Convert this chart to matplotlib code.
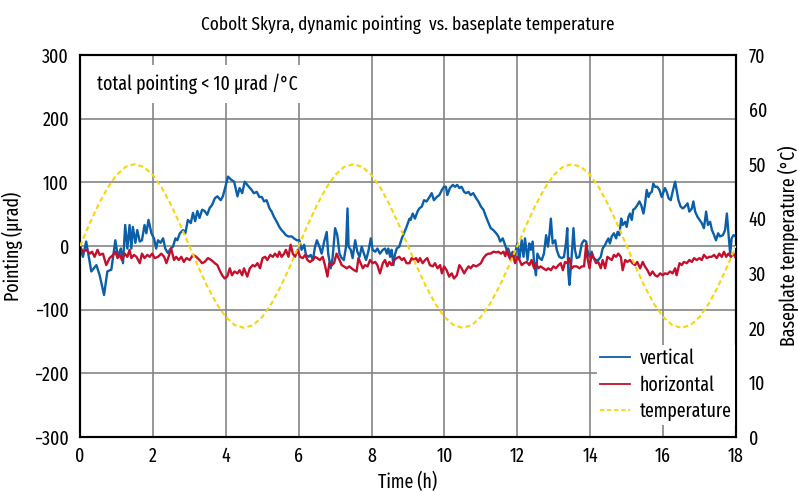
import matplotlib
matplotlib.use("Agg")
import matplotlib.pyplot as plt
from matplotlib.lines import Line2D

plt.rcParams['font.family'] = ['Fira Sans Extra Condensed', 'Fira Sans Condensed', 'DejaVu Sans']
plt.rcParams['axes.unicode_minus'] = True

# ---------------- data ----------------
vert_t = [0.00, 0.08, 0.17, 0.31, 0.45, 0.54, 0.66, 0.75, 0.86, 0.97, 1.04, 1.12, 1.18, 1.24, 1.30, 1.36, 1.41, 1.45,
          1.52, 1.57, 1.64, 1.70, 1.77, 1.82, 1.88, 1.96, 2.03, 2.09, 2.14, 2.21, 2.28, 2.34, 2.41, 2.49, 2.55, 2.62,
          2.67, 2.74, 2.83, 2.89, 2.96, 3.04, 3.10, 3.16, 3.22, 3.28, 3.35, 3.42, 3.49, 3.56, 3.62, 3.70, 3.77, 3.86,
          3.92, 3.99, 4.06, 4.15, 4.23, 4.32, 4.38, 4.45, 4.52, 4.59,
          4.71, 4.77, 4.85, 4.92, 4.99, 5.05, 5.12, 5.20, 5.26, 5.32, 5.40, 5.47, 5.53, 5.58, 5.65, 5.72, 5.81, 5.87,
          5.95, 6.02, 6.08, 6.15, 6.20, 6.27, 6.33, 6.39, 6.45, 6.50, 6.57, 6.63, 6.70, 6.77, 6.81, 6.88, 6.93, 7.00,
          7.06, 7.12, 7.18, 7.24, 7.30, 7.34, 7.37, 7.43, 7.48, 7.55, 7.61, 7.67, 7.73, 7.79, 7.85, 7.91, 7.98, 8.03,
          8.10, 8.16, 8.23, 8.31, 8.37, 8.42, 8.46, 8.51, 8.55, 8.60, 8.64, 8.69, 8.76, 8.83, 8.89, 8.96, 9.04,
          9.07, 9.13, 9.19, 9.26, 9.31, 9.38, 9.44, 9.51, 9.59, 9.65, 9.71, 9.79, 9.86, 9.93, 9.99, 10.04, 10.08,
          10.15, 10.23, 10.29, 10.35, 10.41, 10.47, 10.54, 10.59, 10.66, 10.72, 10.79, 10.87, 10.93, 11.00, 11.07,
          11.14, 11.21, 11.27, 11.34, 11.42, 11.48, 11.53, 11.60, 11.66, 11.71, 11.75, 11.82, 11.87, 11.92, 11.96,
          12.00, 12.06, 12.12, 12.17, 12.21, 12.28, 12.33, 12.37, 12.42, 12.46, 12.51, 12.55, 12.61, 12.67, 12.73,
          12.79, 12.84, 12.88, 12.92, 12.97, 13.04, 13.08, 13.15, 13.22, 13.28, 13.34, 13.37, 13.40, 13.43,
          13.49, 13.54, 13.58, 13.63, 13.70, 13.77, 13.83, 13.89, 13.92, 13.98, 14.04, 14.09, 14.16, 14.22, 14.29,
          14.34, 14.41, 14.45, 14.50, 14.54, 14.59, 14.65, 14.71, 14.75, 14.80, 14.85, 14.89, 14.96, 15.00, 15.05,
          15.09, 15.14, 15.18, 15.23, 15.29, 15.35, 15.40, 15.46, 15.50, 15.55, 15.60, 15.64, 15.69, 15.73, 15.78,
          15.84, 15.90, 15.96, 16.01, 16.05, 16.10, 16.15, 16.21, 16.26, 16.33, 16.37, 16.42, 16.48, 16.54, 16.60,
          16.67, 16.72, 16.79, 16.83, 16.88, 16.94, 17.00, 17.06, 17.12, 17.18, 17.23, 17.29, 17.34, 17.40, 17.45,
          17.51, 17.56, 17.64, 17.70, 17.75, 17.79, 17.84, 17.88, 17.93, 18.00]
vert_v = [-1, -17, 7, -40, -30, -46, -77, -40, -37, 9, -17, -4, -27, 33, -4, 33, -4, 30,
          5, 25, 7, 9, 33, 20, 41, 20, 12, -4, 9, 5, 12, -4, -11, -4, -1, 12,
          9, 20, 25, 20, 41, 36, 52, 39, 55, 44, 57, 55, 49, 60, 64, 75, 78, 72,
          78, 93, 109, 104, 101, 78, 91, 83, 101, 96,
          88, 83, 85, 77, 77, 70, 72, 59, 54, 46, 38, 30, 25, 22, 17, 15, 15, 12,
          9, 9, -6, 2, -14, -17, -14, -22, -1, 9, -1, -12, 7, 22, -12, -35, -19, 28,
          17, -12, -19, -22, -1, 59, -1, -6, -19, 9, -9, -17, -1, -12, -22, -9, 12, -6,
          -9, -4, -12, -6, -4, -12, -4, -17, -6, -30, -14, -4, -1, 12, 20, 30, 43,
          41, 51, 43, 54, 59, 62, 72, 70, 77, 83, 72, 77, 80, 88, 93, 93, 80,
          91, 96, 93, 96, 91, 93, 85, 83, 85, 80, 83, 75, 70, 62, 57,
          46, 36, 28, 25, 20, 15, 7, 12, 2, -6, -4, -17, -9, -19, -6,
          4, -19, 9, -17, 12, -22, 4, -6, 7, -27, -46, -12, -19, -22, -12,
          17, -1, 17, 43, 4, 9, -6, -17, -19, -17, 7, 28, -43, -61,
          -17, 28, -6, -19, -17, 4, 9, 7, -6, -17, -9, -19, -22, -22, -17,
          -4, 2, 7, 12, 4, 15, 20, 12, 22, 17, 43, 33, 38, 30, 46,
          51, 41, 57, 59, 64, 70, 64, 51, 64, 88, 77, 83, 85, 98, 93,
          93, 88, 77, 85, 91, 85, 75, 72, 85, 101, 88, 72, 62, 59, 62,
          67, 54, 59, 70, 54, 46, 41, 36, 28, 54, 33, 38, 25, 17, 9,
          20, 15, 17, 25, 51, 22, -12, 12, 17, 15]

horiz_t = [0.00, 0.08, 0.17, 0.27, 0.33, 0.40, 0.48, 0.54, 0.63, 0.72, 0.81, 0.91, 0.97, 1.03, 1.09, 1.15, 1.23,
           1.30, 1.36, 1.41, 1.48, 1.55, 1.64, 1.70, 1.77, 1.85, 1.91, 1.98, 2.05, 2.14, 2.23, 2.31, 2.37, 2.43,
           2.50, 2.58, 2.64, 2.71, 2.78, 2.85, 2.92, 3.01, 3.10, 3.19, 3.28, 3.35, 3.42, 3.51, 3.60, 3.70, 3.77,
           3.83, 3.90, 3.97, 4.04, 4.11, 4.17, 4.24, 4.32, 4.38, 4.45, 4.50, 4.59,
           4.66, 4.74, 4.80, 4.87, 4.94, 5.01, 5.08, 5.14, 5.22, 5.29, 5.35, 5.42, 5.47, 5.53, 5.60, 5.65, 5.72,
           5.78, 5.84, 5.90, 5.97, 6.04, 6.11, 6.18, 6.24, 6.31, 6.39, 6.45, 6.51, 6.58, 6.66, 6.72, 6.79, 6.84,
           6.91, 6.97, 7.04, 7.12, 7.18, 7.24, 7.32, 7.39, 7.45, 7.52, 7.59, 7.64, 7.70, 7.76, 7.82, 7.89, 7.96,
           8.03, 8.10, 8.16, 8.23, 8.31, 8.37, 8.43, 8.49, 8.55, 8.62, 8.69, 8.76, 8.83, 8.89, 8.96, 9.04,
           9.10, 9.16, 9.22, 9.28, 9.33, 9.40, 9.47, 9.53, 9.60, 9.68, 9.74, 9.81, 9.88, 9.93, 9.99, 10.06, 10.13,
           10.20, 10.26, 10.34, 10.41, 10.47, 10.54, 10.59, 10.66, 10.72, 10.79, 10.87, 10.93, 11.00, 11.07, 11.14,
           11.21, 11.27, 11.34, 11.42, 11.48, 11.55, 11.62, 11.67, 11.71, 11.75, 11.82, 11.87, 11.94, 12.00, 12.06,
           12.12, 12.18, 12.26, 12.33, 12.39, 12.46, 12.51, 12.58, 12.64, 12.71, 12.79, 12.85, 12.92, 12.99, 13.06,
           13.13, 13.19, 13.25, 13.31, 13.37, 13.42,
           13.49, 13.55, 13.63, 13.70, 13.77, 13.83, 13.89, 13.92, 13.98, 14.04, 14.10, 14.16, 14.22, 14.29, 14.34,
           14.41, 14.47, 14.52, 14.59, 14.65, 14.71, 14.77, 14.84, 14.89, 14.96, 15.02, 15.09, 15.16, 15.23, 15.29,
           15.37, 15.44, 15.50, 15.57, 15.64, 15.71, 15.78, 15.84, 15.92, 15.99, 16.05, 16.12, 16.19, 16.26, 16.33,
           16.37, 16.45, 16.51, 16.57, 16.65, 16.72, 16.79, 16.85, 16.92, 17.00, 17.06, 17.12, 17.20, 17.27, 17.33,
           17.40, 17.47, 17.54, 17.61, 17.67, 17.73, 17.79, 17.86, 17.93, 18.00]
horiz_v = [-1, -9, -6, -12, -9, -17, -6, -14, -12, -30, -19, -14, -9, -19, -14, -22, -12,
           -17, -6, -19, -14, -17, -27, -12, -19, -14, -17, -12, -19, -17, -12, -17, -27, -17,
           -4, -22, -17, -22, -17, -25, -19, -22, -14, -17, -22, -27, -25, -19, -22, -27, -30,
           -38, -46, -51, -48, -35, -46, -40, -43, -38, -46, -35, -48,
           -35, -30, -32, -27, -35, -19, -17, -22, -14, -17, -12, -17, -9, -17, -12, -6, -17,
           2, -12, -17, -6, -17, -19, -14, -22, -25, -22, -17, -19, -22, -17, -30, -48, -27,
           -30, -27, -12, -22, -30, -32, -35, -32, -35, -38, -40, -19, -27, -35, -30, -32, -22,
           -27, -25, -30, -43, -27, -22, -32, -25, -30, -22, -19, -17, -22, -19, -27, -27,
           -19, -22, -19, -25, -19, -27, -22, -19, -30, -32, -27, -35, -30, -43, -32, -38, -48,
           -43, -51, -46, -30, -35, -43, -38, -32, -35, -30, -32, -30, -27, -19, -14,
           -12, -12, -9, -10, -9, -12, -9, -16, -6, -14, -22, -12, -27, -17, -22,
           -30, -27, -25, -30, -22, -35, -27, -35, -32, -35, -38, -35, -38, -32, -35,
           -30, -27, -38, -25, -27, -19,
           -35, -32, -32, -35, -32, -32, 2, -17, -35, -12, -19, -27, -25, -35, -22,
           -35, -17, -19, -22, -14, -17, -12, -17, -38, -22, -25, -22, -27, -30, -25,
           -35, -25, -32, -38, -46, -40, -46, -48, -43, -46, -43, -44, -40, -43, -35,
           -46, -27, -30, -25, -27, -22, -25, -19, -22, -19, -22, -14, -19, -17, -17,
           -14, -19, -12, -17, -9, -17, -12, -17, -12, -19]

temp_t = [i * 0.25 for i in range(73)]
temp_v = [35.0, 38.9, 42.5, 45.6, 48.0, 49.5, 50.0, 49.5, 48.0, 45.6, 42.5, 38.9,
          35.0, 31.1, 27.5, 24.4, 22.0, 20.5, 20.0, 20.5, 22.0, 24.4, 27.5, 31.1,
          35.0, 38.9, 42.5, 45.6, 48.0, 49.5, 50.0, 49.5, 48.0, 45.6, 42.5, 38.9,
          35.0, 31.1, 27.5, 24.4, 22.0, 20.5, 20.0, 20.5, 22.0, 24.4, 27.5, 31.1,
          35.0, 38.9, 42.5, 45.6, 48.0, 49.5, 50.0, 49.5, 48.0, 45.6, 42.5, 38.9,
          35.0, 31.1, 27.5, 24.4, 22.0, 20.5, 20.0, 20.5, 22.0, 24.4, 27.5, 31.1,
          35.0]

x_ticks = [0, 2, 4, 6, 8, 10, 12, 14, 16, 18]
y_ticks = [-300, -200, -100, 0, 100, 200, 300]
y2_ticks = [0, 10, 20, 30, 40, 50, 60, 70]

# ---------------- style ----------------
BLUE = '#0b5fa8'
RED = '#c4102c'
YELLOW = '#f9d50c'
FS = 14
DASH = (0, (2.4, 1.5))

fig = plt.figure(figsize=(7.98, 4.92), dpi=100)
ax = fig.add_axes([80 / 798, 55 / 492, 656 / 798, 382 / 492])
ax2 = ax.twinx()

ax.plot(vert_t, vert_v, color=BLUE, lw=1.7, zorder=3)
ax.plot(horiz_t, horiz_v, color=RED, lw=1.7, zorder=3)
ax2.plot(temp_t, temp_v, color=YELLOW, lw=1.5, ls=DASH, zorder=3)

ax.set_xlim(0, 18)
ax.set_ylim(-300, 300)
ax2.set_ylim(0, 70)
ax.set_xticks(x_ticks)
ax.set_yticks(y_ticks)
ax2.set_yticks(y2_ticks)

ax.grid(True, color='#858585', lw=1.2, zorder=0)
ax.set_axisbelow(True)

for a in (ax, ax2):
    for s in a.spines.values():
        s.set_color('black')
        s.set_linewidth(1.5)
    a.tick_params(length=0, labelsize=FS)
ax.tick_params(axis='y', pad=8)
ax.tick_params(axis='x', pad=7)
ax2.tick_params(axis='y', pad=9)

ax.set_xlabel('Time (h)', fontsize=FS, labelpad=4)
ax.set_ylabel('Pointing (µrad)', fontsize=FS, labelpad=8)
ax2.set_ylabel('Baseplate temperature (°C)', fontsize=FS, labelpad=8)
ax.set_title('Cobolt Skyra, dynamic pointing  vs. baseplate temperature', fontsize=13.5, pad=18)

ax.text(0.026, 0.925, 'total pointing < 10 µrad /°C', transform=ax.transAxes, fontsize=FS,
        ha='left', va='center', zorder=5,
        bbox=dict(boxstyle='square,pad=0.45', fc='white', ec='none'))

handles = [Line2D([], [], color=BLUE, lw=1.3),
           Line2D([], [], color=RED, lw=1.3),
           Line2D([], [], color=YELLOW, lw=1.3, ls=DASH)]
leg = ax2.legend(handles, ['vertical', 'horizontal', 'temperature'], loc='lower right',
                 bbox_to_anchor=(1.014, 0.006), frameon=True, fancybox=False, framealpha=1,
                 edgecolor='none', facecolor='white', fontsize=FS, handlelength=1.5,
                 handletextpad=0.52, labelspacing=0.35, borderpad=0.2)
leg.set_zorder(10)

fig.savefig('out.png', dpi=100)
